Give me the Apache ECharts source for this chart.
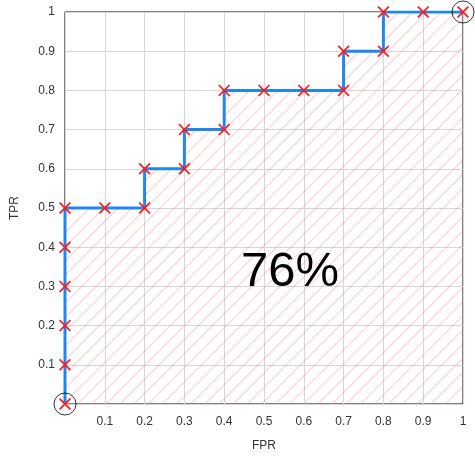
<!DOCTYPE html>
<html>
<head>
<meta charset="utf-8">
<script src="https://cdn.jsdelivr.net/npm/echarts@6/dist/echarts.min.js"></script>
<style>
  html, body { margin: 0; padding: 0; background: #fff; }
  #main { width: 475px; height: 462px; }
</style>
</head>
<body>
<div id="main"></div>
<script>
var fpr = [0, 0, 0, 0, 0, 0, 0.1, 0.2, 0.2, 0.3, 0.3, 0.4, 0.4, 0.5, 0.6, 0.7, 0.7, 0.8, 0.8, 0.9, 1];
var tpr = [0, 0.1, 0.2, 0.3, 0.4, 0.5, 0.5, 0.5, 0.6, 0.6, 0.7, 0.7, 0.8, 0.8, 0.8, 0.8, 0.9, 0.9, 1, 1, 1];
var endPoints = [[0, 0], [1, 1]];
var aucLabel = '76%';

var rocData = fpr.map(function (x, i) { return [x, tpr[i]]; });

var cross = 'path://M1,0L5,4L9,0L10,1L6,5L10,9L9,10L5,6L1,10L0,9L4,5L0,1Z';

var myChart = echarts.init(document.getElementById('main'));

var option = {
  animation: false,
  textStyle: { fontFamily: 'Liberation Sans, Arial, sans-serif' },
  grid: { left: 65, right: 12, top: 12, bottom: 58, show: true, borderColor: '#000', borderWidth: 1 },
  xAxis: {
    type: 'value', min: 0, max: 1, interval: 0.1,
    name: 'FPR', nameLocation: 'middle', nameGap: 36,
    nameTextStyle: { color: '#333', fontSize: 12 },
    axisLine: { show: false },
    axisTick: { show: false },
    axisLabel: {
      color: '#333', fontSize: 12, margin: 12,
      formatter: function (v) { return v === 0 ? '' : String(+v.toFixed(1)); }
    },
    splitLine: { lineStyle: { color: '#d6d6d6' } }
  },
  yAxis: {
    type: 'value', min: 0, max: 1, interval: 0.1,
    name: 'TPR', nameLocation: 'middle', nameGap: 44,
    nameTextStyle: { color: '#333', fontSize: 12 },
    axisLine: { show: false },
    axisTick: { show: false },
    axisLabel: {
      color: '#333', fontSize: 12, margin: 10,
      formatter: function (v) { return v === 0 ? '' : String(+v.toFixed(1)); }
    },
    splitLine: { lineStyle: { color: '#d6d6d6' } }
  },
  graphic: [{
    type: 'text', left: 241, top: 248, z: 100,
    style: { text: aucLabel, fontSize: 49, fill: '#000', fontFamily: 'Liberation Sans, Arial, sans-serif' }
  }],
  series: [{
    type: 'line',
    data: rocData,
    symbol: cross,
    symbolSize: 12,
    itemStyle: {
      color: '#ff1a1a',
      decal: {
        symbol: 'rect',
        symbolSize: 1,
        color: 'rgba(245, 110, 110, 0.35)',
        dashArrayX: [1, 0],
        dashArrayY: [1, 9],
        rotation: -Math.PI / 4
      }
    },
    lineStyle: { color: '#1e88f0', width: 3 },
    areaStyle: { color: 'rgba(255,255,255,0)', opacity: 1 },
    z: 3
  }, {
    type: 'scatter',
    data: endPoints,
    symbol: 'circle',
    symbolSize: 22,
    itemStyle: { color: 'rgba(0,0,0,0)', borderColor: '#000', borderWidth: 1 },
    z: 4
  }]
};
myChart.setOption(option);
</script>
</body>
</html>
